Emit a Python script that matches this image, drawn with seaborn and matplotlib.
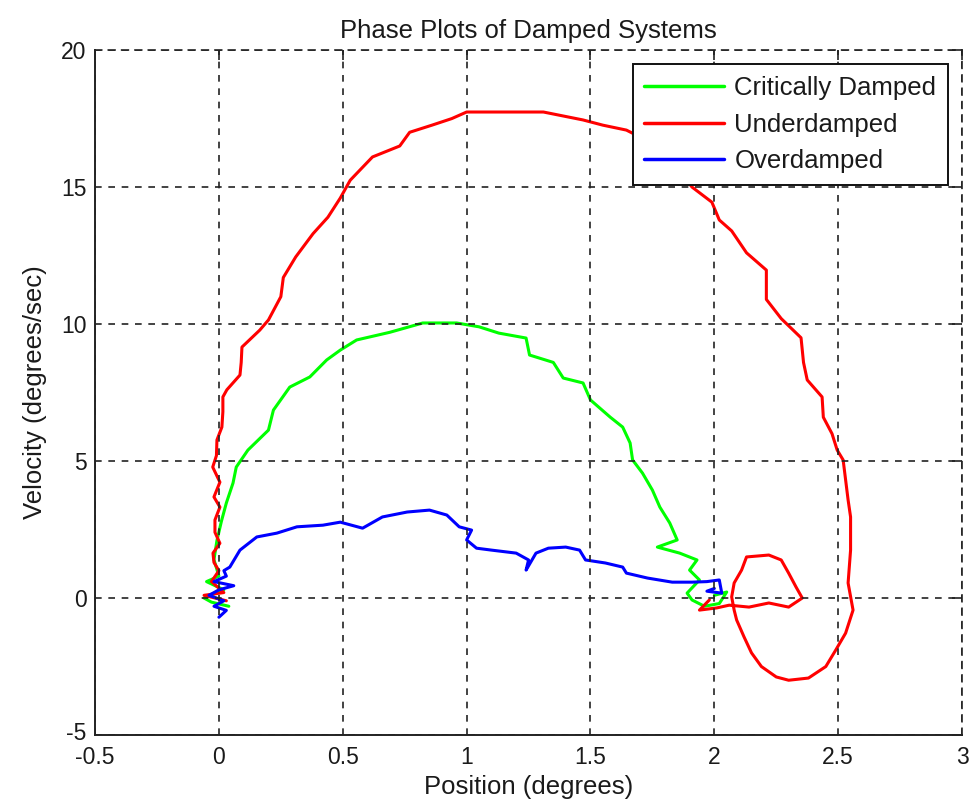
import matplotlib
matplotlib.use("Agg")
import matplotlib.pyplot as plt
import matplotlib.transforms as mtransforms
import seaborn as sns
import pandas as pd

# Phase-plane trajectories (position in degrees, velocity in degrees/sec)
critical_pos = [0.04, -0.03, -0.06, 0.02, -0.05, 0.0, -0.02, -0.008, 0.01, 0.03,
                0.057, 0.07, 0.117, 0.2, 0.22, 0.286, 0.367, 0.435, 0.49, 0.556,
                0.69, 0.823, 0.96, 1.05, 1.13, 1.24, 1.254, 1.35, 1.39, 1.47,
                1.50, 1.58, 1.63, 1.66, 1.67, 1.71, 1.75, 1.78, 1.82, 1.85,
                1.77, 1.86, 1.93, 1.90, 1.94, 1.89, 1.91, 1.96, 2.02, 2.05, 2.0]
critical_vel = [-0.3, -0.15, 0.0, 0.3, 0.6, 0.8, 1.4, 2.1, 2.8, 3.47,
                4.2, 4.78, 5.4, 6.13, 6.86, 7.7, 8.07, 8.69, 9.05, 9.42,
                9.7, 10.04, 10.04, 9.9, 9.67, 9.49, 8.87, 8.6, 8.03, 7.85,
                7.23, 6.6, 6.24, 5.66, 5.04, 4.56, 3.94, 3.32, 2.74, 2.12,
                1.86, 1.64, 1.39, 1.02, 0.66, 0.18, -0.07, -0.3, -0.2, 0.22, 0.1]

under_pos = [0.03, -0.06, 0.02, -0.03, 0.0, -0.02, -0.024, 0.004, -0.016, -0.016,
             0.004, -0.02, 0.004, -0.025, -0.01, -0.008, 0.012, 0.016, 0.016, 0.032,
             0.085, 0.09, 0.093, 0.165, 0.2, 0.25, 0.26, 0.31, 0.38, 0.44,
             0.49, 0.53, 0.62, 0.73, 0.77, 0.86, 0.94, 1.0, 1.31, 1.47,
             1.55, 1.645, 1.75, 1.83, 1.91, 1.99, 2.02, 2.07, 2.13, 2.21,
             2.21, 2.27, 2.35, 2.36, 2.375, 2.435, 2.44, 2.475, 2.496, 2.52,
             2.54, 2.55, 2.55, 2.54, 2.56, 2.53, 2.49, 2.45, 2.38, 2.30,
             2.25, 2.19, 2.15, 2.12, 2.09, 2.08, 2.07, 2.08, 2.11, 2.13,
             2.22, 2.27, 2.30, 2.33, 2.355, 2.30, 2.22, 2.14, 2.06, 2.01,
             1.94, 1.98]
under_vel = [-0.1, 0.1, 0.2, 0.6, 1.0, 1.3, 1.64, 2.0, 2.4, 2.85,
             3.32, 3.69, 4.23, 4.78, 5.2, 5.77, 6.24, 6.8, 7.34, 7.6,
             8.14, 8.6, 9.16, 9.78, 10.15, 11.0, 11.7, 12.45, 13.3, 13.9,
             14.6, 15.25, 16.1, 16.5, 17.0, 17.26, 17.5, 17.74, 17.74, 17.45,
             17.26, 17.08, 16.6, 15.9, 15.0, 14.45, 13.8, 13.4, 12.6, 11.97,
             10.9, 10.2, 9.5, 8.6, 7.96, 7.34, 6.6, 6.0, 5.4, 5.04,
             3.58, 2.96, 1.75, 0.55, -0.44, -1.28, -1.9, -2.5, -2.92, -3.0,
             -2.88, -2.5, -2.0, -1.42, -0.8, -0.44, 0.04, 0.55, 1.02, 1.5,
             1.57, 1.39, 0.91, 0.4, 0.0, -0.33, -0.18, -0.33, -0.26, -0.36,
             -0.44, -0.07]

over_pos = [0.0, 0.03, -0.02, 0.02, -0.04, 0.0, 0.06, -0.02, 0.03, 0.02,
            0.044, 0.085, 0.153, 0.234, 0.315, 0.42, 0.49, 0.58, 0.66, 0.76,
            0.85, 0.92, 0.97, 1.02, 1.0, 1.04, 1.10, 1.20, 1.25, 1.24,
            1.28, 1.33, 1.40, 1.456, 1.48, 1.56, 1.63, 1.645, 1.73, 1.83,
            1.91, 1.97, 2.02, 2.03, 1.97, 2.0]
over_vel = [-0.7, -0.45, -0.3, -0.1, 0.1, 0.3, 0.45, 0.6, 0.8, 1.0,
            1.13, 1.75, 2.23, 2.37, 2.6, 2.66, 2.77, 2.55, 2.96, 3.14,
            3.21, 3.03, 2.6, 2.48, 2.12, 1.82, 1.75, 1.64, 1.39, 1.02,
            1.64, 1.82, 1.86, 1.75, 1.39, 1.28, 1.13, 0.91, 0.73, 0.58,
            0.58, 0.6, 0.66, 0.18, 0.25, 0.35]

systems = ["Critically Damped", "Underdamped", "Overdamped"]
colors = ["#00ff00", "#ff0000", "#0000ff"]

frames = []
for name, xs, vs in zip(systems,
                        [critical_pos, under_pos, over_pos],
                        [critical_vel, under_vel, over_vel]):
    frames.append(pd.DataFrame({"system": name, "position": xs,
                                "velocity": vs, "step": range(len(xs))}))
df = pd.concat(frames, ignore_index=True)

sns.set_theme(style="white")
plt.rcParams["font.family"] = ["Liberation Sans", "DejaVu Sans"]
plt.rcParams["axes.unicode_minus"] = False
text_color = "#1a1a1a"

fig = plt.figure(figsize=(9.7, 8.08), dpi=100)
ax = fig.add_axes([0.098, 0.0903, 0.8938, 0.8477])

sns.lineplot(data=df, x="position", y="velocity", hue="system",
             hue_order=systems, palette=colors, sort=False, estimator=None,
             units="system", linewidth=2.2, ax=ax)

ax.set_xlim(-0.5, 3)
ax.set_ylim(-5, 20)
ax.set_xticks([-0.5, 0, 0.5, 1, 1.5, 2, 2.5, 3])
ax.set_xticklabels(["-0.5", "0", "0.5", "1", "1.5", "2", "2.5", "3"])
ax.set_yticks([-5, 0, 5, 10, 15, 20])
ax.set_yticklabels(["-5", "0", "5", "10", "15", "20"])

ax.grid(True, color="#222222", linestyle=(0, (4, 4)), linewidth=1.2)
ax.set_axisbelow(False)
for side in ["left", "bottom"]:
    ax.spines[side].set_color("#222222")
    ax.spines[side].set_linewidth(1.4)
for side in ["top", "right"]:
    ax.spines[side].set_color("#222222")
    ax.spines[side].set_linewidth(1.2)
    ax.spines[side].set_linestyle((0, (4, 4)))

ax.tick_params(direction="in", length=7, width=1.2, color="#222222",
               top=True, right=True, labelsize=16.5, labelcolor=text_color,
               pad=6)
ax.tick_params(axis="x", pad=8)

# lift the bottom y label a little so it clears the first x label
lowest = ax.get_yticklabels()[0]
lowest.set_transform(lowest.get_transform() +
                     mtransforms.ScaledTranslation(0, 3 / 72, fig.dpi_scale_trans))

ax.set_title("Phase Plots of Damped Systems", fontsize=18.5, color=text_color, pad=9)
ax.set_xlabel("Position (degrees)", fontsize=18.5, color=text_color, labelpad=4)
ax.set_ylabel("Velocity (degrees/sec)", fontsize=18.5, color=text_color, labelpad=10)

leg = ax.legend(loc="upper right", fontsize=18.5, frameon=True, fancybox=False,
                edgecolor="#111111", framealpha=1, handlelength=3.1,
                handletextpad=0.4, borderaxespad=0.55, labelspacing=0.5,
                borderpad=0.45)
leg.get_frame().set_linewidth(1.4)
for line in leg.get_lines():
    line.set_linewidth(2.5)
for t in leg.get_texts():
    t.set_color(text_color)

fig.savefig("out.png", dpi=100)
